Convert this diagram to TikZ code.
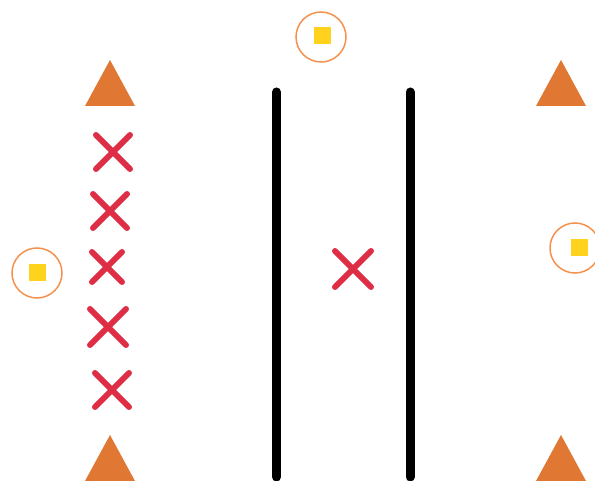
\documentclass[tikz,border=0pt]{standalone}
\usepackage{xcolor}
\definecolor{drred}{RGB}{222,46,70}
\definecolor{drorange}{RGB}{224,120,52}
\definecolor{drring}{RGB}{245,145,78}
\definecolor{dryellow}{RGB}{255,210,30}
\usepackage{tikz}
\newcommand{\cone}[2]{\fill[drorange] (#1-25,#2) -- (#1+25,#2) -- (#1,#2-46) -- cycle;}
\newcommand{\player}[3]{\draw[drred,line width=6pt,line cap=round] (#1-#3,#2-#3) -- (#1+#3,#2+#3) (#1-#3,#2+#3) -- (#1+#3,#2-#3);}
\newcommand{\ball}[4]{\draw[drring,line width=1.5pt,fill=white] (#1,#2) circle (25); \fill[dryellow] (#3-8.5,#4-8.5) rectangle (#3+8.5,#4+8.5);}
\begin{document}
\begin{tikzpicture}[x=1pt,y=-1pt]
\useasboundingbox (0,0) rectangle (595,481);
% ---- pachołki ----
\cone{110}{106}
\cone{110}{481}
\cone{561}{106}
\cone{561}{481}
% ---- linie ----
\draw[line width=9pt,line cap=round] (276.5,92) -- (276.5,477);
\draw[line width=9pt,line cap=round] (410,92) -- (410,477);
% ---- zawodnicy ----
\player{113}{152}{17}
\player{110}{211}{17}
\player{107}{267}{15}
\player{108}{327}{18}
\player{112}{390}{17}
\player{353}{269}{18}
% ---- piłki ----
\ball{321}{37}{322}{36}
\ball{37}{273}{37}{273}
\ball{575}{248}{579}{248}
\end{tikzpicture}
\end{document}
